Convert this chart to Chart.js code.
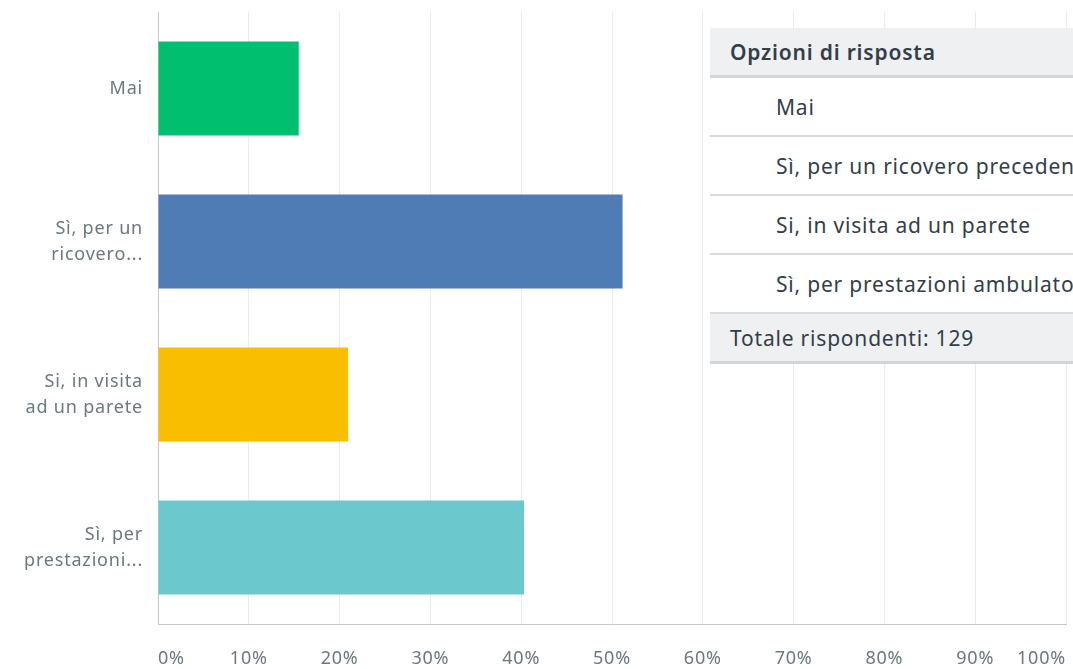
<!DOCTYPE html>
<html>
<head>
<meta charset="utf-8">
<script src="https://cdn.jsdelivr.net/npm/chart.js@4.4.1/dist/chart.umd.min.js"></script>
<style>
  html, body { margin: 0; padding: 0; background: #fff; }
  #wrap { position: relative; width: 1073px; height: 669px; overflow: hidden; }
  #chart { position: absolute; left: 0; top: 0; }
  #tbl {
    position: absolute; left: 710px; top: 28px; width: 420px;
    border-collapse: collapse; font-family: "Noto Sans", sans-serif;
    color: #333e48; font-size: 21px; letter-spacing: 0.8px; background: #fff;
  }
  #tbl td { padding: 0; white-space: nowrap; border-bottom: 2px solid #d9dbdc; }
  #tbl tr.head td { background: #eef0f1; height: 47px; padding-left: 20px; font-weight: 600; border-bottom: 3px solid #d3d6d8; }
  #tbl tr.row td { height: 57px; padding-left: 66px; }
  #tbl tr.total td { background: #eef0f1; height: 47px; padding-left: 20px; border-top: 1px solid #d3d6d8; border-bottom: 3px solid #d3d6d8; }
</style>
</head>
<body>
<div id="wrap">
  <canvas id="chart" width="1073" height="669"></canvas>
  <table id="tbl"></table>
</div>
<script>
// answer options (axis labels) and full option text for the table
const categories = [
  ["Mai"],
  ["Sì, per un", "ricovero..."],
  ["Si, in visita", "ad un parete"],
  ["Sì, per", "prestazioni..."]
];
const fullOptions = [
  "Mai",
  "Sì, per un ricovero precedente",
  "Si, in visita ad un parete",
  "Sì, per prestazioni ambulatoriali"
];
const percentages = [15.5, 51.16, 20.93, 40.31];
const barColors = ["#00bf6f", "#507cb6", "#f9be00", "#6bc8cd"];
const totalRespondents = 129;

// response table on the right
const tbl = document.getElementById("tbl");
let html = '<tr class="head"><td>Opzioni di risposta</td></tr>';
fullOptions.forEach(o => { html += '<tr class="row"><td>' + o + '</td></tr>'; });
html += '<tr class="total"><td>Totale rispondenti: ' + totalRespondents + '</td></tr>';
tbl.innerHTML = html;

// slightly wider tracking for axis text, like the original survey font
const spacing = {
  id: 'spacing',
  beforeLayout: c => { c.ctx.letterSpacing = '0.8px'; },
  beforeDraw: c => { c.ctx.letterSpacing = '0.8px'; }
};

new Chart(document.getElementById("chart"), {
  type: 'bar',
  data: {
    labels: categories,
    datasets: [{
      data: percentages,
      backgroundColor: barColors,
      borderWidth: 0,
      categoryPercentage: 0.615,
      barPercentage: 1.0
    }]
  },
  plugins: [spacing],
  options: {
    indexAxis: 'y',
    responsive: false,
    animation: false,
    layout: { padding: { top: 12, right: 7, left: 0, bottom: 0 } },
    plugins: { legend: { display: false }, tooltip: { enabled: false } },
    scales: {
      x: {
        min: 0, max: 100,
        afterFit: s => { s.height = 45; s.paddingLeft = 0; s.paddingRight = 0; },
        grid: { color: '#ebebeb', drawTicks: false, lineWidth: 1 },
        border: { color: '#c8c8c8', width: 1 },
        ticks: {
          stepSize: 10,
          align: 'inner',
          padding: 24,
          color: '#6b787f',
          font: { family: 'Noto Sans', size: 18 },
          callback: v => v + '%'
        }
      },
      y: {
        afterFit: s => { s.width = 158; s.paddingTop = 0; s.paddingBottom = 0; },
        grid: { display: false, drawTicks: false },
        border: { color: '#c8c8c8', width: 1 },
        ticks: {
          padding: 15,
          color: '#6b787f',
          font: { family: 'Noto Sans', size: 18, lineHeight: 1.45 }
        }
      }
    }
  }
});
</script>
</body>
</html>
